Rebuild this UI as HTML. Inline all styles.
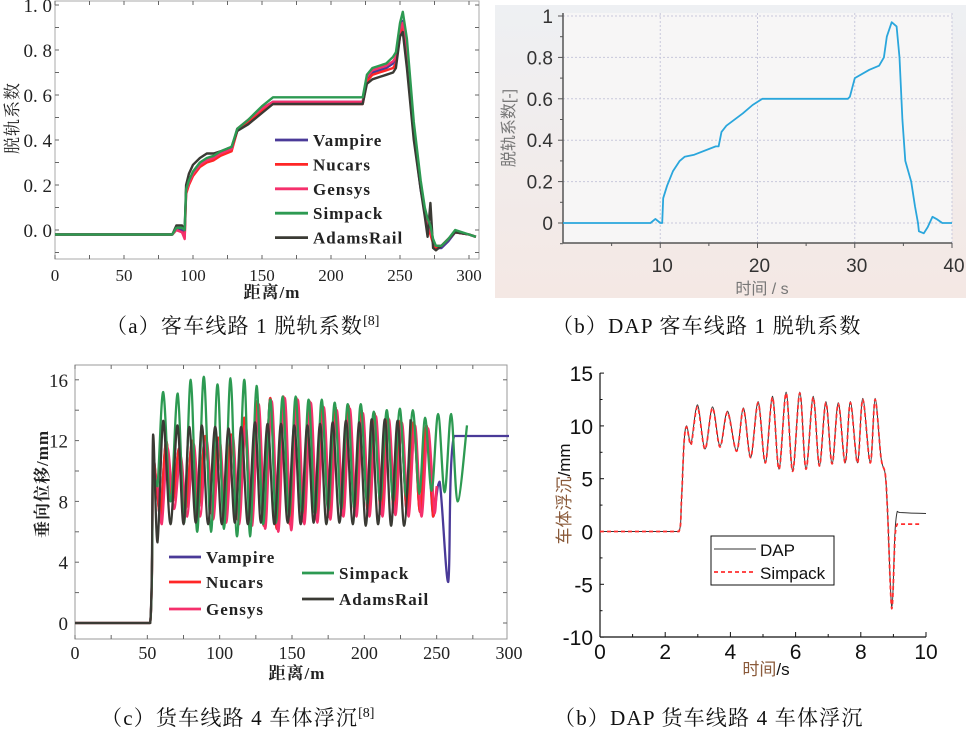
<!DOCTYPE html>
<html><head><meta charset="utf-8">
<style>
html,body{margin:0;padding:0;background:#fff;}
svg{display:block;}
.serif{font-family:"Liberation Serif","Noto Serif CJK SC",serif;}
.sans{font-family:"Liberation Sans","Noto Sans CJK SC",sans-serif;}
</style></head>
<body>
<svg id="root" width="977" height="736" viewBox="0 0 977 736" xmlns="http://www.w3.org/2000/svg">
<defs>
<linearGradient id="bgB" x1="0" y1="0" x2="0" y2="1">
<stop offset="0" stop-color="#eef0f3"/><stop offset="1" stop-color="#f4e8e4"/>
</linearGradient>
</defs>
<g id="chartA"></g>
<g id="chartB"></g>
<g id="chartC"></g>
<g id="chartD"></g>
</svg>
<script>
// ---------- Chart A data ----------
const aX = [0,85,88,92,94,95,97,100,105,110,115,120,128,132,140,150,158,160,200,223,226,230,240,245,247,250,252,255,260,265,268,270,272,274,276,280,285,290,300,305];
const aVampire = [-0.02,-0.02,0.0,0.0,-0.01,0.17,0.21,0.25,0.29,0.31,0.32,0.34,0.36,0.44,0.48,0.54,0.57,0.57,0.57,0.57,0.67,0.70,0.72,0.74,0.76,0.88,0.93,0.80,0.42,0.18,0.08,0.03,0.00,-0.05,-0.08,-0.08,-0.05,-0.01,-0.02,-0.03];
const aNucars = [-0.02,-0.02,0.0,-0.01,-0.03,0.16,0.20,0.24,0.28,0.30,0.31,0.33,0.35,0.44,0.48,0.53,0.56,0.56,0.56,0.56,0.66,0.69,0.71,0.72,0.74,0.86,0.90,0.78,0.44,0.20,0.09,0.02,-0.02,-0.06,-0.08,-0.07,-0.04,-0.01,-0.02,-0.03];
const aGensys = [-0.02,-0.02,0.0,-0.01,-0.04,0.17,0.21,0.25,0.29,0.31,0.32,0.34,0.36,0.45,0.49,0.54,0.57,0.57,0.57,0.57,0.68,0.71,0.73,0.75,0.77,0.89,0.92,0.79,0.43,0.19,0.08,0.03,0.00,-0.05,-0.07,-0.07,-0.04,-0.01,-0.02,-0.03];
const aSimpack = [-0.02,-0.02,0.01,0.01,0.0,0.18,0.22,0.26,0.30,0.32,0.33,0.35,0.37,0.45,0.49,0.55,0.59,0.59,0.59,0.59,0.69,0.72,0.74,0.77,0.79,0.92,0.97,0.85,0.48,0.22,0.10,0.05,0.02,-0.04,-0.07,-0.07,-0.04,0.0,-0.02,-0.03];
const aAdams = [-0.02,-0.02,0.02,0.02,0.0,0.20,0.25,0.29,0.32,0.34,0.34,0.35,0.37,0.44,0.47,0.52,0.56,0.56,0.56,0.56,0.65,0.67,0.69,0.70,0.72,0.86,0.88,0.72,0.40,0.18,0.06,-0.03,0.12,-0.08,-0.09,-0.07,-0.04,-0.01,-0.02,-0.03];
const aXTicks = [0,50,100,150,200,250,300];
const aYTicks = [0.0,0.2,0.4,0.6,0.8,1.0];
const aYTickLabels = ["0. 0","0. 2","0. 4","0. 6","0. 8","1. 0"];
const aLegend = ["Vampire","Nucars","Gensys","Simpack","AdamsRail"];

// ---------- Chart B data ----------
const bX = [0,9,9.5,10,10.2,10.3,10.7,11.3,12,12.5,13.5,15.7,16,16.3,16.8,18.5,19.5,20.5,21,22,29.3,29.5,30,31.5,32.5,33,33.3,33.8,34.3,34.6,34.9,35.2,35.8,36.2,36.5,36.6,37.1,37.5,38,38.4,39,40];
const bY = [0,0,0.02,0,0,0.12,0.18,0.25,0.30,0.32,0.33,0.37,0.37,0.44,0.47,0.53,0.57,0.60,0.60,0.60,0.60,0.61,0.70,0.74,0.76,0.80,0.90,0.97,0.95,0.80,0.50,0.30,0.20,0.08,0.0,-0.04,-0.05,-0.02,0.03,0.02,0.0,0.0];
const bXTicks = [10,20,30,40];
const bYTicks = [0,0.2,0.4,0.6,0.8,1];
const bYTickLabels = ["0","0.2","0.4","0.6","0.8","1"];

// ---------- Chart C data ----------
const cNucarsX = [0,52,54,56.5,59,63,67.5,72,76.5,81,85.5,90,94.5,99,103.5,108,112.5,117,121.5,126,130.5,135,139.5,144,148.5,153,157.5,162,166.5,171,175.5,180,184.5,189,193.5,198,202.5,207,211.5,216,220.5,225,229.5,234,238.5,243,247.5,250];
const cNucarsY = [0,0,11,9,7,12,8,11.5,7.5,12,7.6,12.3,7.2,12.2,7.0,12.4,6.8,13.5,6.8,14.6,6.4,14.8,6.2,14.9,6.5,14.8,6.7,14.6,6.9,14.3,7.0,14.2,7.1,14.3,7.2,14.0,7.3,13.8,7.2,13.6,7.3,13.3,7.3,13.2,7.3,13.0,7.0,9];
const cVampireX = [0,52,54,56.5,59,63,67.5,72,76.5,81,85.5,90,94.5,99,103.5,108,112.5,117,121.5,126,130.5,135,139.5,144,148.5,153,157.5,162,166.5,171,175.5,180,184.5,189,193.5,198,202.5,207,211.5,216,220.5,225,229.5,234,238.5,243,247.5,252,258,262,300];
const cVampireY = [0,0,11,9,7,12,8,11.5,7.5,12,7.6,12.3,7.2,12.2,7.0,12.4,6.8,13.5,6.8,14.6,6.4,14.8,6.2,14.9,6.5,14.8,6.7,14.6,6.9,14.3,7.0,14.2,7.1,14.3,7.2,14.0,7.3,13.8,7.2,13.6,7.3,13.3,7.3,13.2,7.3,13.0,7.0,9.3,2.7,12.3,12.3];
const cGensysX = [0,52,54,57,60,64,68.5,73,77.5,82,86.5,91,95.5,100,104.5,109,113.5,118,122.5,127,131.5,136,140.5,145,149.5,154,158.5,163,167.5,172,176.5,181,185.5,190,194.5,199,203.5,208,212.5,217,221.5,226,230.5,235,239.5,244,248.5,250];
const cGensysY = [0,0,10,9,6.5,11.5,7.5,11,7.0,11.8,7.0,12,6.8,12,6.6,12.3,6.5,13,6.4,14.4,6.2,14.6,6.0,14.8,6.1,14.7,6.5,14.5,6.6,14.2,6.8,14.0,7.0,14.1,7.0,13.8,7.0,13.6,7.0,13.4,7.1,13.2,7.0,13.0,7.0,12.8,7.2,9];
const cAdamsX = [0,52,54,57,61,66,70.8,75,79,83.5,87.7,92,96.9,101.5,106.1,110.5,114.9,119.5,124.4,128.5,133.1,137.8,142.4,147,151.6,156,160.6,165,169.4,173.8,178.1,182.8,187.3,192,196.5,201,205.1,209.5,214.2,218.5,223,227.5,232];
const cAdamsY = [0,0,12.4,5.3,13.3,6.5,13.0,6.5,12.9,6.6,13.0,6.5,12.9,6.5,12.8,6.6,12.9,6.5,13.2,6.6,13.1,6.5,13.1,6.6,13.0,6.5,13.0,6.6,13.1,6.5,13.2,6.6,13.3,6.5,13.2,6.4,13.4,6.5,13.4,6.4,13.3,6.4,13.4];
const cSimpackX = [0,52,54,57,61,66,71,75.5,80,84.5,89,94,98.5,103,107.5,112,117,121,125.5,130,135,139,143.5,148,152.5,157,161.5,166,170.5,175,179.5,184,188.5,193,197.5,202,206.5,211,215.5,220,224.5,229,233.5,238,242,246.5,251,255.5,260,264.5,271];
const cSimpackY = [0,0,10,9,15.2,8,15.1,6.6,16.0,6.0,16.2,6.0,15.7,6.2,16.1,5.7,16.0,5.7,15.6,6.5,14.7,6.6,14.9,7.0,14.9,7.2,14.7,7.2,14.7,7.4,14.5,7.5,14.4,7.6,14.4,7.8,13.9,8.0,14.0,8.0,14.1,8.3,14.0,8.5,13.5,8.7,13.75,8.6,13.75,8.0,13.0];
const cXTicks = [0,50,100,150,200,250,300];
const cYTicks = [0,4,8,12,16];

// ---------- Chart D data ----------
const dDapX = [0,2.42,2.5,2.58,2.66,2.79,2.99,3.22,3.45,3.68,3.91,4.19,4.4,4.62,4.85,5.07,5.29,5.49,5.71,5.91,6.13,6.32,6.54,6.73,6.93,7.12,7.31,7.52,7.68,7.9,8.06,8.29,8.44,8.62,8.75,8.82,8.95,9.05,9.12,9.2,10];
const dDapY = [0,0,3,8.5,10.0,8.3,12.0,7.8,11.8,8.1,11.4,7.6,11.7,7.0,12.3,6.5,12.8,5.9,13.2,5.7,13.2,5.9,12.8,6.2,12.3,6.4,12.2,6.5,12.3,6.5,12.6,6.5,12.6,7.0,5.4,2,-7.2,0,1.9,1.8,1.7];
const dSimX = [0,2.42,2.5,2.58,2.66,2.79,2.99,3.22,3.45,3.68,3.91,4.19,4.4,4.62,4.85,5.07,5.29,5.49,5.71,5.91,6.13,6.32,6.54,6.73,6.93,7.12,7.31,7.52,7.68,7.9,8.06,8.29,8.44,8.62,8.75,8.82,8.95,9.05,9.12,9.2,9.85];
const dSimY = [0,0,3,8.5,9.9,8.2,11.8,7.8,11.7,8.0,11.3,7.6,11.6,7.0,12.2,6.5,12.7,5.9,13.1,5.7,13.1,5.9,12.7,6.2,12.2,6.4,12.1,6.5,12.2,6.5,12.5,6.5,12.5,7.0,5.4,2,-7.3,-0.5,0.7,0.7,0.7];
const dXTicks = [0,2,4,6,8,10];
const dYTicks = [-10,-5,0,5,10,15];

const NS = "http://www.w3.org/2000/svg";
function mk(parent, tag, attrs, text){
  const e = document.createElementNS(NS, tag);
  for (const k in attrs) e.setAttribute(k, attrs[k]);
  if (text !== undefined) e.textContent = text;
  parent.appendChild(e);
  return e;
}
function linPath(xs, ys, sx, sy){
  const n = Math.min(xs.length, ys.length);
  let d = "";
  for (let i=0;i<n;i++) d += (i? "L":"M") + sx(xs[i]).toFixed(1) + "," + sy(ys[i]).toFixed(1);
  return d;
}
function clamp(v,a,b){ const lo=Math.min(a,b), hi=Math.max(a,b); return Math.min(Math.max(v,lo),hi); }
function smoothPath(xs, ys, sx, sy){
  const n = Math.min(xs.length, ys.length);
  const P = [];
  for (let i=0;i<n;i++) P.push([sx(xs[i]), sy(ys[i])]);
  let d = "M" + P[0][0].toFixed(1) + "," + P[0][1].toFixed(1);
  for (let i=0;i<n-1;i++){
    const p0 = P[Math.max(0,i-1)], p1 = P[i], p2 = P[i+1], p3 = P[Math.min(n-1,i+2)];
    const t = 0.5/3;
    const c1 = [p1[0]+(p2[0]-p0[0])*t, p1[1]+(p2[1]-p0[1])*t];
    const c2 = [p2[0]-(p3[0]-p1[0])*t, p2[1]-(p3[1]-p1[1])*t];
    c1[0] = clamp(c1[0], p1[0], p2[0]); c2[0] = clamp(c2[0], p1[0], p2[0]);
    c1[1] = clamp(c1[1], p1[1], p2[1]); c2[1] = clamp(c2[1], p1[1], p2[1]);
    d += "C" + c1[0].toFixed(1)+","+c1[1].toFixed(1)+" "+c2[0].toFixed(1)+","+c2[1].toFixed(1)+" "+p2[0].toFixed(1)+","+p2[1].toFixed(1);
  }
  return d;
}
function caption(g, x, y, main, cite, name){
  const t = mk(g,"text",{x:x,y:y,"font-size":21,"letter-spacing":"1.2","class":"serif",fill:"#111"},"");
  
  
  mk(t,"tspan",{},main);
  if (cite) mk(t,"tspan",{"font-size":14,dy:-8,"letter-spacing":"0"},cite);
}

// ================= Chart A =================
(function(){
  const g = document.getElementById("chartA");
  const sx = v => 55 + v*(414/300);
  const sy = v => 230 - v*225;
  const L=55, R=479, T=1, B=259;
  let e = mk(g,"rect",{x:L,y:T,width:R-L,height:B-T,fill:"#fff",stroke:"#aaa","stroke-width":1});
  
  
  for (let v=-0.1; v<=1.0001; v+=0.1){
    const y = sy(v);
    mk(g,"line",{x1:L,y1:y,x2:L+4,y2:y,stroke:"#666","stroke-width":1});
    mk(g,"line",{x1:R-4,y1:y,x2:R,y2:y,stroke:"#666","stroke-width":1});
  }
  for (let i=0;i<=12;i++){
    const x = sx(i*25);
    if (x>R) continue;
    mk(g,"line",{x1:x,y1:B,x2:x,y2:B-4,stroke:"#666","stroke-width":1});
    mk(g,"line",{x1:x,y1:T,x2:x,y2:T+4,stroke:"#666","stroke-width":1});
  }
  aYTicks.forEach((v,i)=>{
    const t = mk(g,"text",{x:52,y:sy(v)+7,"text-anchor":"end","font-size":19,"class":"serif",fill:"#222"},aYTickLabels[i]);
    
    
  });
  aXTicks.forEach(v=>{
    const t = mk(g,"text",{x:sx(v),y:281,"text-anchor":"middle","font-size":17,"class":"serif",fill:"#222"},String(v));
    
    
  });
  const colors = ["#4a3a98","#ff2626","#f5306c","#2d9a52","#3a3a34"];
  const series = [aVampire,aNucars,aGensys,aSimpack,aAdams];
  const names = ["line-vampire-a","line-nucars-a","line-gensys-a","line-simpack-a","line-adamsrail-a"];
  [0,1,2,4,3].forEach(i=>{
    const p = mk(g,"path",{d:linPath(aX,series[i],sx,sy),fill:"none",stroke:colors[i],"stroke-width":2.4,"stroke-linejoin":"round"});
    
    
  });
  aLegend.forEach((n,i)=>{
    const y = 140 + i*24.4;
    const l = mk(g,"line",{x1:275,y1:y,x2:308,y2:y,stroke:colors[i],"stroke-width":2.8});
    
    
    const t = mk(g,"text",{x:313,y:y+6,"font-size":17,"font-weight":"bold","class":"serif",fill:"#222","letter-spacing":"1"},n);
    
    
  });
  let t = mk(g,"text",{transform:"translate(18,118) rotate(-90)","text-anchor":"middle","font-size":17,"class":"serif",fill:"#222","letter-spacing":"1"},"脱轨系数");
  
  
  t = mk(g,"text",{x:272,y:298,"text-anchor":"middle","font-size":17,"font-weight":"bold","class":"serif",fill:"#222","letter-spacing":"1"},"距离/m");
  
  
  caption(g,106,333,"（a）客车线路 1 脱轨系数","[8]","caption-a");
})();

// ================= Chart B =================
(function(){
  const g = document.getElementById("chartB");
  const sx = v => 563 + v*(389/40);
  const sy = v => 223 - v*207;
  const L=563, R=952, T=13, B=243;
  let e = mk(g,"rect",{x:495,y:5,width:471,height:293,fill:"url(#bgB)"});
  
  
  e = mk(g,"rect",{x:L,y:T,width:R-L,height:B-T,fill:"#f7f6f6"});
  
  
  bYTicks.forEach(v=>{
    mk(g,"line",{x1:L,y1:sy(v),x2:R,y2:sy(v),stroke:"#c8c8dc","stroke-width":1,"stroke-dasharray":"2,2"});
  });
  bXTicks.forEach(v=>{
    mk(g,"line",{x1:sx(v),y1:T,x2:sx(v),y2:B,stroke:"#c8c8dc","stroke-width":1,"stroke-dasharray":"2,2"});
  });
  mk(g,"line",{x1:L,y1:T,x2:L,y2:B,stroke:"#555","stroke-width":1.5});
  mk(g,"line",{x1:L,y1:B,x2:R,y2:B,stroke:"#555","stroke-width":1.5});
  for (let v=-0.1; v<=1.0001; v+=0.1){
    const y=sy(v);
    mk(g,"line",{x1:L-(Math.abs(Math.round(v*10))%2===0?5:3),y1:y,x2:L,y2:y,stroke:"#555","stroke-width":1});
  }
  for (let v=5; v<=40; v+=5){
    mk(g,"line",{x1:sx(v),y1:B,x2:sx(v),y2:B+(v%10===0?5:3),stroke:"#555","stroke-width":1});
  }
  bYTicks.forEach((v,i)=>{
    const t = mk(g,"text",{x:553,y:sy(v)+7,"text-anchor":"end","font-size":19,"class":"sans",fill:"#333"},bYTickLabels[i]);
    
    
  });
  bXTicks.forEach(v=>{
    const t = mk(g,"text",{x:sx(v)+2,y:272,"text-anchor":"middle","font-size":19,"class":"sans",fill:"#333"},String(v));
    
    
  });
  const p = mk(g,"path",{d:linPath(bX,bY,sx,sy),fill:"none",stroke:"#2aa6dc","stroke-width":1.8,"stroke-linejoin":"round"});
  
  
  let t = mk(g,"text",{transform:"translate(514,128) rotate(-90)","text-anchor":"middle","font-size":16,"class":"sans",fill:"#777"},"脱轨系数[-]");
  
  
  t = mk(g,"text",{x:762,y:294,"text-anchor":"middle","font-size":16,"class":"sans",fill:"#777"},"时间 / s");
  
  
  caption(g,552,333,"（b）DAP 客车线路 1 脱轨系数","","caption-b");
})();

// ================= Chart C =================
(function(){
  const g = document.getElementById("chartC");
  const sx = v => 75 + v*(434/300);
  const sy = v => 623 - v*15.2;
  const L=75, R=507, T=365, B=639;
  let e = mk(g,"rect",{x:L,y:T,width:R-L,height:B-T,fill:"#fff",stroke:"#999","stroke-width":1});
  
  
  for (let v=0; v<=18; v+=2){
    const y=sy(v); if (y<T) continue;
    mk(g,"line",{x1:L,y1:y,x2:L+4,y2:y,stroke:"#666"});
    mk(g,"line",{x1:R-4,y1:y,x2:R,y2:y,stroke:"#666"});
  }
  for (let v=0; v<=300; v+=25){
    const x=sx(v); if (x>R) continue;
    mk(g,"line",{x1:x,y1:B,x2:x,y2:B-4,stroke:"#666"});
    mk(g,"line",{x1:x,y1:T,x2:x,y2:T+4,stroke:"#666"});
  }
  cYTicks.forEach(v=>{
    const t = mk(g,"text",{x:68,y:sy(v)+7,"text-anchor":"end","font-size":19,"class":"serif",fill:"#222"},String(v));
    
    
  });
  cXTicks.forEach(v=>{
    const t = mk(g,"text",{x:sx(v),y:659,"text-anchor":"middle","font-size":18,"class":"serif",fill:"#222"},String(v));
    
    
  });
  const S = [
    [cVampireX,cVampireY,"#4a3a98","line-vampire-c"],
    [cNucarsX,cNucarsY,"#ff2626","line-nucars-c"],
    [cGensysX,cGensysY,"#f5306c","line-gensys-c"],
    [cSimpackX,cSimpackY,"#2d9a52","line-simpack-c"],
    [cAdamsX,cAdamsY,"#3a3a34","line-adamsrail-c"]
  ];
  S.forEach(s=>{
    const p = mk(g,"path",{d:smoothPath(s[0],s[1],sx,sy),fill:"none",stroke:s[2],"stroke-width":2.3,"stroke-linejoin":"round"});
    
    
  });
  const lg = [["Vampire","#4a3a98",169,557],["Nucars","#ff2626",169,582],["Gensys","#f5306c",169,609],["Simpack","#2d9a52",302,573],["AdamsRail","#3a3a34",302,599]];
  lg.forEach(it=>{
    const l = mk(g,"line",{x1:it[2],y1:it[3],x2:it[2]+32,y2:it[3],stroke:it[1],"stroke-width":2.8});
    
    
    const t = mk(g,"text",{x:it[2]+37,y:it[3]+6,"font-size":17,"font-weight":"bold","class":"serif",fill:"#222","letter-spacing":"1"},it[0]);
    
    
  });
  let t = mk(g,"text",{transform:"translate(48,484) rotate(-90)","text-anchor":"middle","font-size":17,"font-weight":"bold","class":"serif",fill:"#222","letter-spacing":"1"},"垂向位移/mm");
  
  
  t = mk(g,"text",{x:297,y:679,"text-anchor":"middle","font-size":17,"font-weight":"bold","class":"serif",fill:"#222","letter-spacing":"1"},"距离/m");
  
  
  caption(g,101,725,"（c）货车线路 4 车体浮沉","[8]","caption-c");
})();

// ================= Chart D =================
(function(){
  const g = document.getElementById("chartD");
  const sx = v => 600 + v*32.6;
  const sy = v => 531.5 - v*10.56;
  const L=600, R=926, T=373, B=637;
  mk(g,"line",{x1:L,y1:T,x2:L,y2:B,stroke:"#111","stroke-width":1.2});
  mk(g,"line",{x1:L,y1:B,x2:R,y2:B,stroke:"#111","stroke-width":1.2});
  for (let v=-10; v<=15; v+=2.5){
    mk(g,"line",{x1:L,y1:sy(v),x2:L+(v%5===0?4:2.5),y2:sy(v),stroke:"#111"});
  }
  for (let v=0; v<=10; v+=1){
    mk(g,"line",{x1:sx(v),y1:B,x2:sx(v),y2:B-(v%2===0?5:3),stroke:"#111"});
  }
  dYTicks.forEach(v=>{
    const t = mk(g,"text",{x:593,y:sy(v)+8,"text-anchor":"end","font-size":21,"class":"sans",fill:"#111"},String(v));
    
    
  });
  dXTicks.forEach(v=>{
    const t = mk(g,"text",{x:sx(v),y:659,"text-anchor":"middle","font-size":21,"class":"sans",fill:"#111"},String(v));
    
    
  });
  let p = mk(g,"path",{d:smoothPath(dDapX,dDapY,sx,sy),fill:"none",stroke:"#333","stroke-width":1});
  
  
  p = mk(g,"path",{d:smoothPath(dSimX,dSimY,sx,sy),fill:"none",stroke:"#ff2e2e","stroke-width":1.8,"stroke-dasharray":"4,3"});
  
  
  const box = mk(g,"rect",{x:711,y:536,width:123,height:49,fill:"#fff",stroke:"#111","stroke-width":1});
  
  
  let l = mk(g,"line",{x1:714,y1:549,x2:756,y2:549,stroke:"#333","stroke-width":1});
  
  
  l = mk(g,"line",{x1:714,y1:572,x2:756,y2:572,stroke:"#ff2e2e","stroke-width":1.8,"stroke-dasharray":"4,3"});
  
  
  let t = mk(g,"text",{x:760,y:556,"font-size":17,"class":"sans",fill:"#111"},"DAP");
  
  
  t = mk(g,"text",{x:760,y:579,"font-size":17,"class":"sans",fill:"#111"},"Simpack");
  
  
  t = mk(g,"text",{transform:"translate(570,494) rotate(-90)","text-anchor":"middle","font-size":17,"class":"sans",fill:"#333"},"");
  
  
  mk(t,"tspan",{fill:"#8a5a3a"},"车体浮沉");
  mk(t,"tspan",{fill:"#111"},"/mm");
  t = mk(g,"text",{x:766,y:675,"text-anchor":"middle","font-size":17,"class":"sans",fill:"#111"},"");
  
  
  mk(t,"tspan",{fill:"#8a5a3a"},"时间");
  mk(t,"tspan",{fill:"#111"},"/s");
  caption(g,554,725,"（b）DAP 货车线路 4 车体浮沉","","caption-d");
})();
</script>
</body></html>
